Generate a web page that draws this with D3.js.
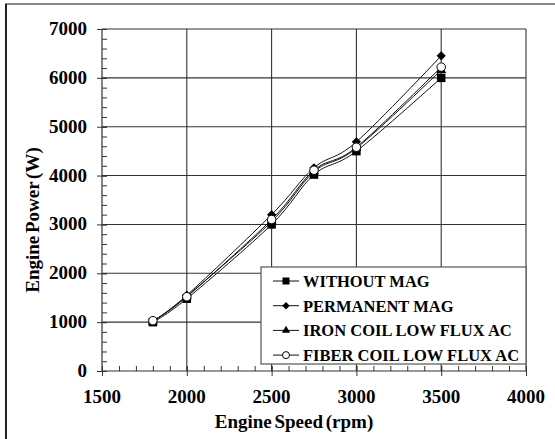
<!DOCTYPE html>
<html>
<head>
<meta charset="utf-8">
<script src="https://cdnjs.cloudflare.com/ajax/libs/d3/7.8.5/d3.min.js"></script>
<style>
  body { margin: 0; background: #fff; }
</style>
</head>
<body>
<svg></svg>
<script>
// engine speed (rpm) for every measured point
let speeds = [1800, 2000, 2500, 2750, 3000, 3500]

// engine power (W)
let withoutMag = [1000, 1480, 3000, 4020, 4500, 6000]
let permanentMag = [1020, 1550, 3200, 4160, 4690, 6450]
let ironCoil = [1010, 1530, 3060, 4080, 4560, 6160]
let fiberCoil = [1030, 1520, 3100, 4110, 4580, 6220]

let seriesNames = ['WITHOUT MAG', 'PERMANENT MAG', 'IRON COIL LOW FLUX AC', 'FIBER COIL LOW FLUX AC']
let seriesMarkers = ['square', 'diamond', 'triangle', 'circle']

let xTicks = [1500, 2000, 2500, 3000, 3500, 4000]
let yTicks = [0, 1000, 2000, 3000, 4000, 5000, 6000, 7000]

let width = 555
let height = 439
let serif = "'Liberation Serif', 'DejaVu Serif', 'Times New Roman', serif"

let svg = d3.select('svg')
  .attr('width', width)
  .attr('height', height)
  .attr('font-family', serif)
  .attr('font-weight', 'bold')

// plot area
let plotLeft = 102, plotRight = 526, plotTop = 29, plotBottom = 371

let xScale = d3.scaleLinear().domain([1500, 4000]).range([plotLeft, plotRight])
let yScale = d3.scaleLinear().domain([0, 7000]).range([plotBottom, plotTop])

// outer frame (only top and left edges show in the picture)
svg.append('line').attr('x1', 5).attr('x2', 555).attr('y1', 4).attr('y2', 4)
  .attr('stroke', '#888').attr('stroke-width', 2)
svg.append('line').attr('x1', 6).attr('x2', 6).attr('y1', 4).attr('y2', 439)
  .attr('stroke', '#222').attr('stroke-width', 2)

// grid
svg.append('g').selectAll('line').data(yTicks.slice(1)).enter().append('line')
  .attr('x1', plotLeft).attr('x2', plotRight)
  .attr('y1', d => yScale(d)).attr('y2', d => yScale(d))
  .attr('stroke', '#333').attr('stroke-width', 1.1)
svg.append('g').selectAll('line').data(xTicks.slice(1)).enter().append('line')
  .attr('x1', d => xScale(d)).attr('x2', d => xScale(d))
  .attr('y1', plotTop).attr('y2', plotBottom)
  .attr('stroke', '#333').attr('stroke-width', 1.1)

// axes: minor ticks point inward, major ticks cross the axis
let xAxis = svg.append('g').attr('transform', 'translate(0,' + plotBottom + ')')
xAxis.call(d3.axisTop(xScale).tickValues(d3.range(1500, 4001, 100)).tickSize(5).tickFormat(''))
xAxis.call(g => g.select('.domain').remove())
xAxis.append('line').attr('x1', plotLeft).attr('x2', plotRight).attr('stroke', '#333').attr('stroke-width', 1.2)
xAxis.selectAll('line').attr('stroke', '#333')
let xMajor = svg.append('g').attr('transform', 'translate(0,' + (plotBottom + 5) + ')')
  .call(d3.axisTop(xScale).tickValues(xTicks).tickSize(10).tickFormat(''))
xMajor.select('.domain').remove()
xMajor.selectAll('line').attr('stroke', '#333')

svg.append('g').selectAll('text').data(xTicks).enter().append('text')
  .attr('x', d => xScale(d)).attr('y', 403)
  .attr('text-anchor', 'middle').attr('font-size', 19)
  .text(d => d)

let yAxis = svg.append('g').attr('transform', 'translate(' + plotLeft + ',0)')
yAxis.call(d3.axisRight(yScale).tickValues(d3.range(0, 7001, 200)).tickSize(5).tickFormat(''))
yAxis.call(g => g.select('.domain').remove())
yAxis.append('line').attr('y1', plotTop).attr('y2', plotBottom).attr('stroke', '#333').attr('stroke-width', 1.2)
yAxis.selectAll('line').attr('stroke', '#333')
let yMajor = svg.append('g').attr('transform', 'translate(' + (plotLeft - 5) + ',0)')
  .call(d3.axisRight(yScale).tickValues(yTicks).tickSize(10).tickFormat(''))
yMajor.select('.domain').remove()
yMajor.selectAll('line').attr('stroke', '#333')

svg.append('g').selectAll('text').data(yTicks).enter().append('text')
  .attr('x', 87).attr('y', d => yScale(d) + 6)
  .attr('text-anchor', 'end').attr('font-size', 19)
  .text(d => d)

// axis titles
svg.append('text').attr('x', 294).attr('y', 428)
  .attr('text-anchor', 'middle').attr('font-size', 19).attr('word-spacing', -2)
  .text('Engine Speed (rpm)')
svg.append('text').attr('transform', 'translate(39,220) rotate(-90)')
  .attr('text-anchor', 'middle').attr('font-size', 19).attr('word-spacing', -2)
  .text('Engine Power (W)')

// marker drawing
let drawMarker = (g, type, size) => {
  if (type === 'square') {
    g.append('rect').attr('x', -size / 2).attr('y', -size / 2).attr('width', size).attr('height', size).attr('fill', '#000')
  } else if (type === 'diamond') {
    g.append('path').attr('d', d3.symbol(d3.symbolDiamond2, size * size * 0.75)).attr('fill', '#000')
  } else if (type === 'triangle') {
    g.append('path').attr('d', d3.symbol(d3.symbolTriangle, size * size * 0.6)).attr('fill', '#000')
  } else {
    g.append('circle').attr('r', size / 2).attr('fill', '#fff').attr('stroke', '#000').attr('stroke-width', 1)
  }
}

let allSeries = [withoutMag, permanentMag, ironCoil, fiberCoil]

let line = d3.line()
  .x(d => xScale(d[0]))
  .y(d => yScale(d[1]))
  .curve(d3.curveCardinal.tension(0))

allSeries.forEach((values, i) => {
  let pts = speeds.map((s, j) => [s, values[j]])
  svg.append('path').datum(pts)
    .attr('d', line)
    .attr('fill', 'none').attr('stroke', '#111').attr('stroke-width', 1)
})
allSeries.forEach((values, i) => {
  speeds.forEach((s, j) => {
    let g = svg.append('g').attr('transform', 'translate(' + xScale(s) + ',' + yScale(values[j]) + ')')
    drawMarker(g, seriesMarkers[i], 8.5)
  })
})

// legend
let legend = svg.append('g')
legend.append('rect').attr('x', 261).attr('y', 267).attr('width', 265).attr('height', 97)
  .attr('fill', '#fff').attr('stroke', '#555').attr('stroke-width', 1.2)
seriesNames.forEach((name, i) => {
  let cy = 281 + i * 24.7
  legend.append('line').attr('x1', 273).attr('x2', 299).attr('y1', cy).attr('y2', cy)
    .attr('stroke', '#111').attr('stroke-width', 1)
  let g = legend.append('g').attr('transform', 'translate(286,' + cy + ')')
  drawMarker(g, seriesMarkers[i], 7)
  legend.append('text').attr('x', 303).attr('y', cy + 6)
    .attr('font-size', 16.5)
    .text(name)
})
</script>
</body>
</html>
